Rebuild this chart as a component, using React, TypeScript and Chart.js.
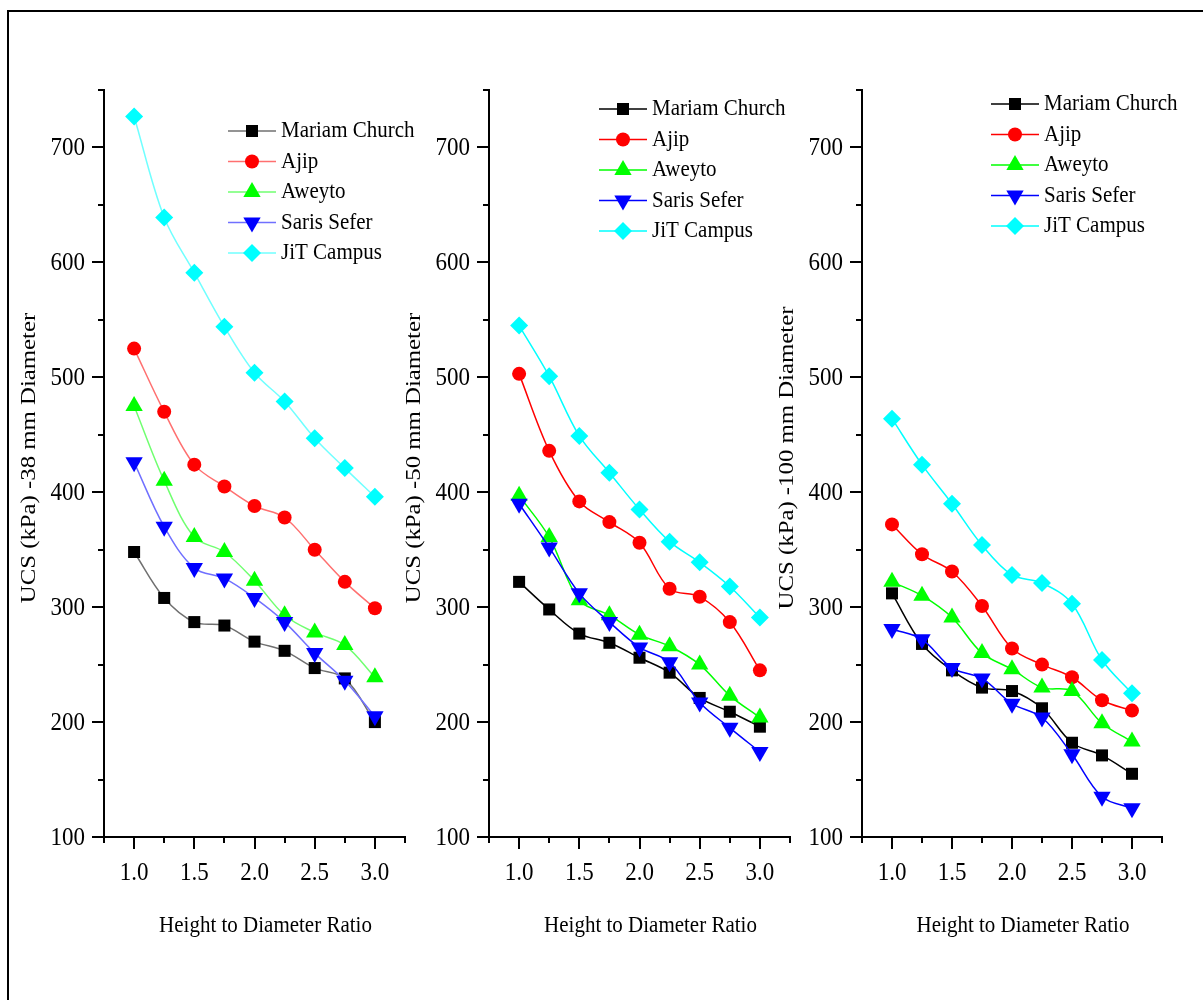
import React, { useEffect, useRef } from 'react';
import { Chart, registerables } from 'chart.js';
import { drawPoint } from 'chart.js/helpers';

Chart.register(...registerables);

// ---------- data ----------
const ratios = [1.0, 1.25, 1.5, 1.75, 2.0, 2.25, 2.5, 2.75, 3.0];
const seriesNames = ['Mariam Church', 'Ajip', 'Aweyto', 'Saris Sefer', 'JiT Campus'];

// 38 mm diameter
const mariam38 = [348, 308, 287, 284, 270, 262, 247, 238, 200];
const ajip38 = [525, 470, 424, 405, 388, 378, 350, 322, 299];
const aweyto38 = [475, 410, 361, 348, 323, 293, 278, 267, 239];
const saris38 = [426, 370, 334, 325, 308, 287, 260, 236, 205];
const jit38 = [727, 639, 591, 544, 504, 479, 447, 421, 396];

// 50 mm diameter
const mariam50 = [322, 298, 277, 269, 256, 243, 221, 209, 196];
const ajip50 = [503, 436, 392, 374, 356, 316, 309, 287, 245];
const aweyto50 = [397, 361, 306, 293, 276, 266, 250, 223, 204];
const saris50 = [390, 352, 312, 287, 265, 252, 217, 195, 174];
const jit50 = [545, 501, 449, 417, 385, 357, 339, 318, 291];

// 100 mm diameter
const mariam100 = [312, 268, 245, 230, 227, 212, 182, 171, 155];
const ajip100 = [372, 346, 331, 301, 264, 250, 239, 219, 210];
const aweyto100 = [322, 310, 291, 260, 246, 230, 227, 199, 183];
const saris100 = [281, 272, 247, 238, 216, 204, 172, 135, 125];
const jit100 = [464, 424, 390, 354, 328, 321, 303, 254, 225];

const yTitles = ['UCS (kPa) -38 mm Diameter', 'UCS (kPa) -50 mm Diameter', 'UCS (kPa) -100 mm Diameter'];
const xTitle = 'Height to Diameter Ratio';
const xTickLabels = ['1.0', '1.5', '2.0', '2.5', '3.0'];
const yTickLabels = ['100', '200', '300', '400', '500', '600', '700'];

// ---------- styling / layout ----------
const X_MIN = 0.75, X_MAX = 3.25, X_STEP = 0.25;
const Y_MIN = 100, Y_MAX = 750, Y_STEP = 50;
const W = 1203, H = 1000;
const PLOT_TOP = 90, PLOT_BOTTOM = 837;
const Y_W = 80, X_H = 60;
const SERIF = '"Liberation Serif", "Times New Roman", serif';
const STRETCH = 1.12;

const markerColors = ['#000000', '#ff0000', '#00ff00', '#0000ff', '#00ffff'];
const lightLineColors = ['#707070', '#ff7070', '#70ff70', '#7070ff', '#70ffff'];
const markerStyles = [
  { pointStyle: 'rect', radius: 8.5, rotation: 0 },
  { pointStyle: 'circle', radius: 7, rotation: 0 },
  { pointStyle: 'triangle', radius: 10, rotation: 0 },
  { pointStyle: 'triangle', radius: 10, rotation: 180 },
  { pointStyle: 'rectRot', radius: 9, rotation: 0 },
];

const panels = [
  { series: [mariam38, ajip38, aweyto38, saris38, jit38], plotLeft: 104, plotRight: 405, lineColors: lightLineColors, legendX: 228, legendY: 131 },
  { series: [mariam50, ajip50, aweyto50, saris50, jit50], plotLeft: 489, plotRight: 790, lineColors: markerColors, legendX: 599, legendY: 109 },
  { series: [mariam100, ajip100, aweyto100, saris100, jit100], plotLeft: 862, plotRight: 1162, lineColors: markerColors, legendX: 991, legendY: 104 },
];

function stretchedText(ctx: CanvasRenderingContext2D, text: string, x: number, y: number, size: number, align: CanvasTextAlign) {
  ctx.save();
  ctx.translate(x, y);
  ctx.scale(1, STRETCH);
  ctx.font = `${size}px ${SERIF}`;
  ctx.textAlign = align;
  ctx.textBaseline = 'middle';
  ctx.fillStyle = '#000';
  ctx.fillText(text, 0, 0);
  ctx.restore();
}

function makeDecor(idx: number) {
  const p = panels[idx];
  return {
    id: 'decor' + idx,
    afterDraw(chart: any) {
      const ctx = chart.ctx as CanvasRenderingContext2D;
      const ca = chart.chartArea;
      const xs = chart.scales.x;
      const ys = chart.scales.y;
      ctx.save();
      // tick marks (major long, minor short)
      ctx.strokeStyle = '#000';
      ctx.lineWidth = 2;
      ctx.beginPath();
      xs.ticks.forEach((t: any) => {
        const px = Math.round(xs.getPixelForValue(t.value));
        const len = t.label ? 12 : 6;
        ctx.moveTo(px, ca.bottom);
        ctx.lineTo(px, ca.bottom + len);
      });
      ys.ticks.forEach((t: any) => {
        const py = Math.round(ys.getPixelForValue(t.value));
        const len = t.label ? 12 : 6;
        ctx.moveTo(ca.left, py);
        ctx.lineTo(ca.left - len, py);
      });
      ctx.stroke();

      // tick labels (from the scales' own ticks)
      xs.ticks.forEach((t: any) => {
        if (t.label) stretchedText(ctx, t.label, xs.getPixelForValue(t.value), ca.bottom + 36, 23, 'center');
      });
      ys.ticks.forEach((t: any) => {
        if (t.label) stretchedText(ctx, t.label, ca.left - 19, ys.getPixelForValue(t.value) + 1, 23, 'right');
      });

      // x title
      stretchedText(ctx, xTitle, xs.getPixelForValue(2.0) + 11, 926, 21, 'center');

      // y title
      ctx.save();
      ctx.fillStyle = '#000';
      ctx.translate(ca.left - 69, 458);
      ctx.rotate(-Math.PI / 2);
      ctx.scale(1.18, 1);
      ctx.font = `21px ${SERIF}`;
      ctx.textAlign = 'center';
      ctx.textBaseline = 'alphabetic';
      ctx.fillText(yTitles[idx], 0, 0);
      ctx.restore();

      // legend
      chart.data.datasets.forEach((ds: any, i: number) => {
        const y = p.legendY + i * 30.5;
        ctx.strokeStyle = ds.borderColor;
        ctx.lineWidth = 1.5;
        ctx.beginPath();
        ctx.moveTo(p.legendX, y);
        ctx.lineTo(p.legendX + 48, y);
        ctx.stroke();
        ctx.fillStyle = ds.pointBackgroundColor;
        ctx.strokeStyle = ds.pointBackgroundColor;
        drawPoint(ctx, { pointStyle: ds.pointStyle, radius: ds.pointRadius, rotation: ds.pointRotation, borderWidth: 0 } as any, p.legendX + 24, y);
        stretchedText(ctx, ds.label, p.legendX + 53, y, 21, 'left');
      });
      ctx.restore();
    },
  };
}

function Panel({ idx }: { idx: number }) {
  const ref = useRef<HTMLCanvasElement>(null);
  useEffect(() => {
    const p = panels[idx];
    const chart = new Chart(ref.current as HTMLCanvasElement, {
      type: 'line',
      data: {
        datasets: p.series.map((vals, i) => ({
          label: seriesNames[i],
          data: ratios.map((r, j) => ({ x: r, y: vals[j] })),
          borderColor: p.lineColors[i],
          backgroundColor: markerColors[i],
          pointBackgroundColor: markerColors[i],
          pointBorderColor: markerColors[i],
          pointBorderWidth: 0,
          pointStyle: markerStyles[i].pointStyle,
          pointRadius: markerStyles[i].radius,
          pointRotation: markerStyles[i].rotation,
          borderWidth: 1.5,
          tension: 0.35,
          fill: false,
          order: 4 - i,
        })) as any,
      },
      options: {
        animation: false,
        responsive: false,
        devicePixelRatio: 1,
        layout: {
          padding: { left: p.plotLeft - Y_W, right: W - p.plotRight, top: PLOT_TOP, bottom: H - PLOT_BOTTOM - X_H },
        },
        plugins: { legend: { display: false }, tooltip: { enabled: false }, title: { display: false } },
        scales: {
          x: {
            type: 'linear',
            min: X_MIN,
            max: X_MAX,
            afterFit: (s: any) => { s.height = X_H; },
            grid: { display: false, drawTicks: false },
            border: { display: true, color: '#000', width: 2 },
            ticks: {
              display: false,
              stepSize: X_STEP,
              autoSkip: false,
              maxRotation: 0,
              callback: (v: any) => {
                const s = Number(v).toFixed(1);
                return Math.abs(Number(v) - Number(s)) < 1e-6 && xTickLabels.includes(s) ? s : '';
              },
            },
          },
          y: {
            type: 'linear',
            min: Y_MIN,
            max: Y_MAX,
            afterFit: (s: any) => { s.width = Y_W; },
            grid: { display: false, drawTicks: false },
            border: { display: true, color: '#000', width: 2 },
            ticks: {
              display: false,
              stepSize: Y_STEP,
              autoSkip: false,
              callback: (v: any) => {
                const s = String(Math.round(Number(v)));
                return yTickLabels.includes(s) ? s : '';
              },
            },
          },
        },
      } as any,
      plugins: [makeDecor(idx)],
    });
    return () => chart.destroy();
  }, [idx]);
  return (
    <canvas
      ref={ref}
      width={W}
      height={H}
      style={{ position: 'absolute', left: 0, top: 0, width: W, height: H, display: 'block' }}
    />
  );
}

export default function App() {
  return (
    <div style={{ position: 'absolute', left: 0, top: 0, width: W, height: H, overflow: 'hidden', background: '#fff' }}>
      <div
        style={{
          position: 'absolute', left: 7, top: 10, width: W - 7, height: H - 10,
          borderTop: '2px solid #000', borderLeft: '2px solid #000', boxSizing: 'border-box',
        }}
      />
      {panels.map((_, i) => <Panel key={i} idx={i} />)}
    </div>
  );
}
